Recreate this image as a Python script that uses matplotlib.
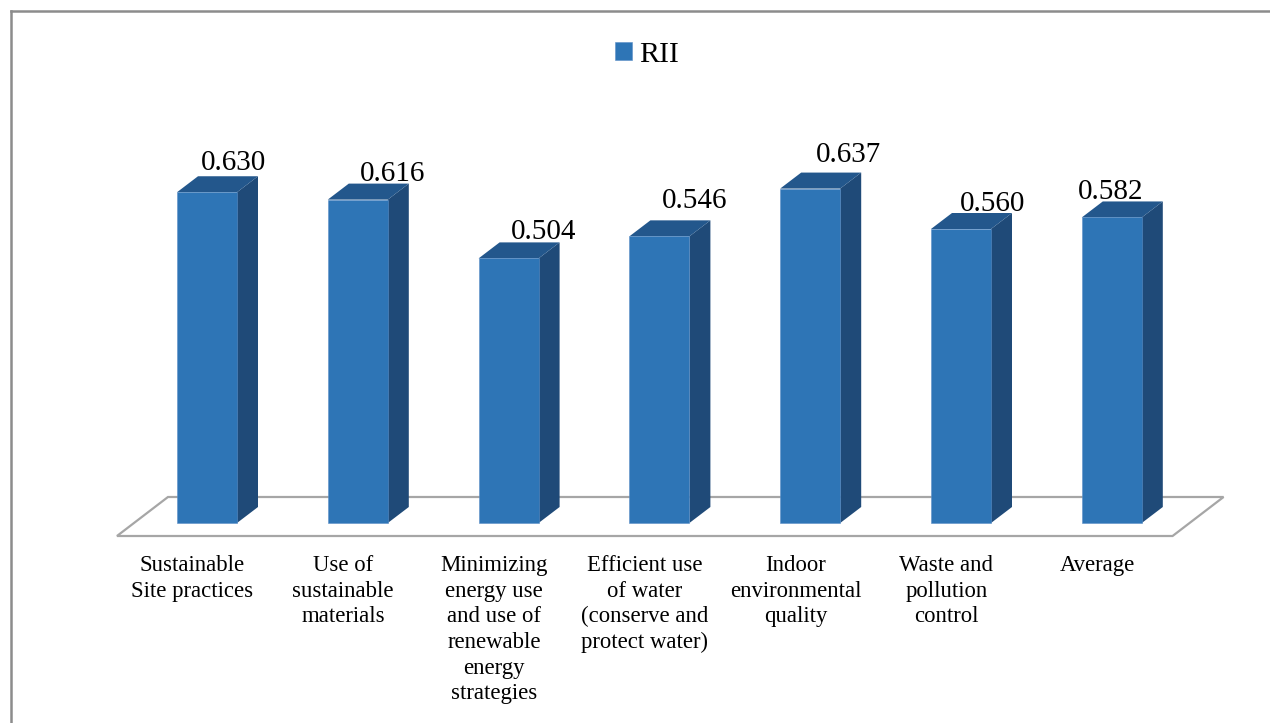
import matplotlib
matplotlib.use("Agg")
import matplotlib.pyplot as plt
from matplotlib.patches import Polygon
from matplotlib.lines import Line2D

# ---- data ----
categories = [
    "Sustainable\nSite practices",
    "Use of\nsustainable\nmaterials",
    "Minimizing\nenergy use\nand use of\nrenewable\nenergy\nstrategies",
    "Efficient use\nof water\n(conserve and\nprotect water)",
    "Indoor\nenvironmental\nquality",
    "Waste and\npollution\ncontrol",
    "Average",
]
rii = [0.630, 0.616, 0.504, 0.546, 0.637, 0.560, 0.582]
value_labels = ["0.630", "0.616", "0.504", "0.546", "0.637", "0.560", "0.582"]
series_name = "RII"

# ---- layout / style ----
W, H, DPI = 1270, 723, 100
PX_X = 150.8   # pixels per category unit
PX_Y = 525.0   # pixels per value unit
X0_PX = 207.0  # pixel x of first bar centre
Y0_PX = 523.0  # pixel y of value 0

FRONT = "#2E75B6"
TOP = "#23578C"
SIDE = "#1F4A78"
GRID = "#A6A6A6"
FONT = "Liberation Serif"

# label offsets (pixels) - Excel 3D quirks
lab_dx_px = [27, 35, 35, 35, 38, 32, -1]
lab_gap_px = [6, 3, 3, 12, 11, 2, 2]

fig = plt.figure(figsize=(W / DPI, H / DPI), dpi=DPI)
ax = fig.add_axes([0, 0, 1, 1])
ax.set_xlim(-X0_PX / PX_X, (W - X0_PX) / PX_X)
ax.set_ylim((Y0_PX - H) / PX_Y, Y0_PX / PX_Y)
ax.axis("off")

n = len(categories)
xs = list(range(n))
bw = 60 / PX_X
ddx = 21 / PX_X
ddy = 16 / PX_Y

# floor
fshift = -0.097
f_front_y = (Y0_PX - 536) / PX_Y
f_back_y = (Y0_PX - 497) / PX_Y
f_dx = 51 / PX_X
fl = -0.5 + fshift
fr = n - 0.5 + fshift
floor = Polygon([(fl, f_front_y), (fr, f_front_y), (fr + f_dx, f_back_y), (fl + f_dx, f_back_y)],
                closed=True, facecolor="white", edgecolor=GRID, lw=1.6, zorder=1)
ax.add_patch(floor)

# bars
bars = ax.bar(xs, rii, width=bw, color=FRONT, edgecolor="#5B8FC7", linewidth=0.4, zorder=3)
for x, v in zip(xs, rii):
    r = x + bw / 2
    l = x - bw / 2
    side = Polygon([(r, 0), (r + ddx, ddy), (r + ddx, v + ddy), (r, v)], closed=True,
                   facecolor=SIDE, edgecolor="none", zorder=2.9)
    top = Polygon([(l, v), (l + ddx, v + ddy), (r + ddx, v + ddy), (r, v)], closed=True,
                  facecolor=TOP, edgecolor="none", zorder=2.9)
    ax.add_patch(side)
    ax.add_patch(top)

# value labels
for x, v, s, dxp, gp in zip(xs, rii, value_labels, lab_dx_px, lab_gap_px):
    ax.text(x + dxp / PX_X, v + ddy + gp / PX_Y, s, ha="center", va="baseline",
            fontsize=21, family=FONT, color="black", zorder=5)

# category labels
for x, c in zip(xs, categories):
    ax.text(x + fshift, (Y0_PX - 555) / PX_Y, c, ha="center", va="top",
            fontsize=16.4, family=FONT, linespacing=1.29, color="black")

# legend
leg = fig.legend([bars], [series_name], loc="center", bbox_to_anchor=(647 / W, 1 - 55 / H),
                 frameon=False, handlelength=0.55, handleheight=0.55, handletextpad=0.25,
                 prop={"family": FONT, "size": 21.5})

# outer border (top and left visible)
fig.add_artist(Line2D([11 / W, 1], [1 - 11 / H, 1 - 11 / H], color="#8C8C8C", lw=1.8,
                      transform=fig.transFigure))
fig.add_artist(Line2D([11 / W, 11 / W], [1 - 11 / H, 0], color="#8C8C8C", lw=1.8,
                      transform=fig.transFigure))

fig.savefig("out.png", dpi=DPI)
